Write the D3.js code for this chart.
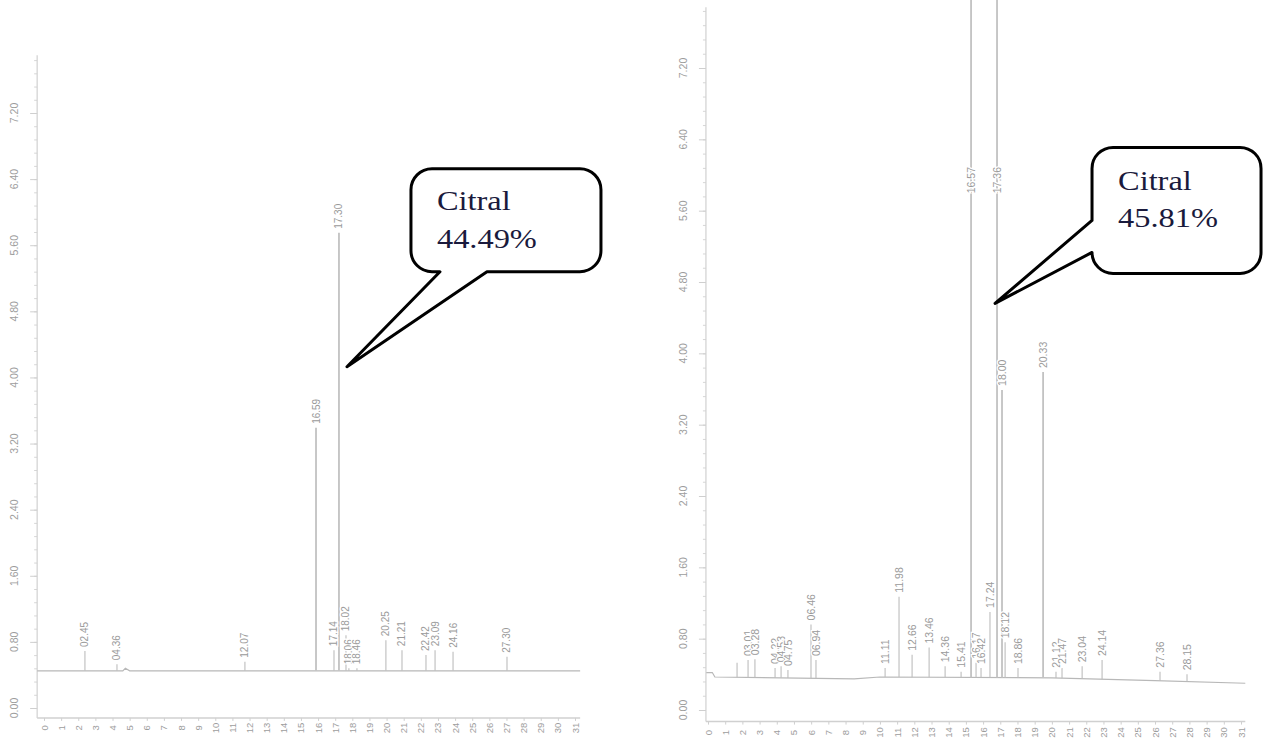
<!DOCTYPE html>
<html>
<head>
<meta charset="utf-8">
<script src="https://cdn.jsdelivr.net/npm/d3@7"></script>
<style>
body { margin: 0; background: #fff; }
svg { display: block; }
</style>
</head>
<body>
<svg id="chart" width="1263" height="744"></svg>
<script>
// tick values shared by both chromatograms
const yTickValues = [0, 0.8, 1.6, 2.4, 3.2, 4.0, 4.8, 5.6, 6.4, 7.2]
const xTickValues = [0, 1, 2, 3, 4, 5, 6, 7, 8, 9, 10, 11, 12, 13, 14, 15,
    16, 17, 18, 19, 20, 21, 22, 23, 24, 25, 26, 27, 28, 29, 30, 31]

// left sample: retention time (min), detector value, printed label
const leftTimes = [2.39, 4.26, 11.73, 15.88, 16.93, 17.22, 17.63, 17.80, 18.27, 19.96, 20.90, 22.30, 22.83, 23.88, 27.03]
const leftHeights = [0.69, 0.53, 0.56, 3.39, 0.70, 5.75, 0.88, 0.48, 0.48, 0.82, 0.70, 0.64, 0.70, 0.68, 0.62]
const leftLabels = ["02.45", "04.36", "12.07", "16.59", "17.14", "17.30", "18.02", "18.06", "18.46",
    "20.25", "21.21", "22.42", "23.09", "24.16", "27.30"]
const leftBaseTimes = [-0.4, 4.6, 4.75, 5.0, 31.3]
const leftBaseLevels = [0.45, 0.45, 0.48, 0.45, 0.45]

// right sample
const rightTimes = [1.69, 2.33, 2.73, 3.90, 4.25, 4.65, 5.99, 6.28, 10.30, 11.11, 11.87, 12.86, 13.79, 14.72,
    15.30, 15.59, 15.88, 16.40, 16.81, 17.10, 17.28, 18.03, 19.49, 20.24, 20.59, 21.76, 22.92, 26.29, 27.86]
const rightHeights = [0.53, 0.56, 0.57, 0.47, 0.49, 0.45, 0.96, 0.56, 0.47, 1.27, 0.62, 0.70, 0.49, 0.43,
    9.5, 0.53, 0.47, 1.10, 9.5, 3.59, 0.76, 0.47, 3.79, 0.43, 0.47, 0.49, 0.56, 0.43, 0.40]
const rightLabels = ["", "03.01", "03.28", "04.22", "04.53", "04.75", "06.46", "06.94", "11.11", "11.98", "12.66",
    "13.46", "14.36", "15.41", "16.57", "16.17", "16.42", "17.24", "17.36", "18.00", "18.12", "18.86", "20.33",
    "21.12", "21.47", "23.04", "24.14", "27.36", "28.15"]
const rightBaseTimes = [-0.1, 0.25, 0.4, 8.5, 10.0, 20, 26, 31.25]
const rightBaseLevels = [0.42, 0.42, 0.37, 0.35, 0.37, 0.36, 0.33, 0.30]

// callouts: text, and the point of the citral peak they point at
const calloutNames = ["Citral", "Citral"]
const calloutShares = ["44.49%", "45.81%"]
const calloutTimes = [17.22, 16.81]
const calloutValues = [4.13, 4.56]

const svg = d3.select("#chart")
svg.append("rect").attr("width", 1263).attr("height", 744).attr("fill", "#fff")

const panels = [
    {
        times: leftTimes, heights: leftHeights, labels: leftLabels,
        baseTimes: leftBaseTimes, baseLevels: leftBaseLevels,
        xRange: [44, 575], yRange: [708, 113], tExtent: [-0.4, 31.3], vExtent: [-0.12, 7.9],
        yLabelX: 14, xLabelGap: 10, fontSize: 10,
        callout: { index: 0, dx: 8, left: 64, top: -198, w: 190, h: 103, baseA: 93, baseB: 140, side: "bottom", textDx: 90, line1: -157, line2: -119 },
    },
    {
        times: rightTimes, heights: rightHeights, labels: rightLabels,
        baseTimes: rightBaseTimes, baseLevels: rightBaseLevels,
        xRange: [708, 1241], yRange: [710, 68], tExtent: [-0.12, 31.25], vExtent: [-0.13, 7.88],
        yLabelX: 683, xLabelGap: 11, fontSize: 10.5,
        callout: { index: 1, dx: -2, left: 97, top: -156, w: 169, h: 126, baseA: 83, baseB: 50, side: "left", textDx: 123, line1: -113, line2: -76 },
    },
]

const labelFont = '"Liberation Sans", Arial, sans-serif'

for (const p of panels) {
    const x = d3.scaleLinear().domain([0, 31]).range(p.xRange)
    const y = d3.scaleLinear().domain([0, 7.2]).range(p.yRange)
    const base = d3.scaleLinear().domain(p.baseTimes).range(p.baseLevels)
    const g = svg.append("g")

    const axisY = y(p.vExtent[0])
    const axisX = x(p.tExtent[0])

    // y axis: minor and major ticks
    const minor = d3.range(0, p.vExtent[1], 0.16)
    g.append("g")
        .attr("transform", `translate(${axisX},0)`)
        .call(d3.axisLeft(y).tickValues(minor).tickSize(3).tickFormat(""))
        .call((a) => a.select(".domain").remove())
        .call((a) => a.selectAll("line").attr("stroke", "#d6d6d6"))
    g.append("g")
        .attr("transform", `translate(${axisX},0)`)
        .call(d3.axisLeft(y).tickValues(yTickValues).tickSize(7).tickFormat(""))
        .call((a) => a.select(".domain").remove())
        .call((a) => a.selectAll("line").attr("stroke", "#cfcfcf"))

    g.append("line")
        .attr("x1", axisX).attr("x2", axisX)
        .attr("y1", y(p.vExtent[1])).attr("y2", axisY)
        .attr("stroke", "#d0d0d0").attr("stroke-width", 1.2)

    g.append("g").selectAll("text")
        .data(yTickValues)
        .join("text")
        .attr("transform", (v) => `translate(${p.yLabelX},${y(v)}) rotate(-90)`)
        .attr("text-anchor", "middle")
        .attr("dominant-baseline", "central")
        .attr("font-family", labelFont)
        .attr("font-size", 10.5)
        .attr("fill", "#9d9d9d")
        .text(d3.format(".2f"))

    // x axis
    g.append("g")
        .attr("transform", `translate(0,${axisY})`)
        .call(d3.axisBottom(x).tickValues(xTickValues).tickSize(3).tickFormat(""))
        .call((a) => a.select(".domain").remove())
        .call((a) => a.selectAll("line").attr("stroke", "#cfcfcf"))
    g.append("line")
        .attr("x1", axisX).attr("x2", x(p.tExtent[1]))
        .attr("y1", axisY).attr("y2", axisY)
        .attr("stroke", "#d0d0d0").attr("stroke-width", 1.5)
    g.append("g").selectAll("text")
        .data(xTickValues)
        .join("text")
        .attr("transform", (t) => `translate(${x(t)},${axisY + p.xLabelGap}) rotate(-90)`)
        .attr("text-anchor", "middle")
        .attr("dominant-baseline", "central")
        .attr("font-family", labelFont)
        .attr("font-size", 9.5)
        .attr("fill", "#9d9d9d")
        .text((t) => t)

    // baseline trace
    const baseLine = d3.line().x((d) => x(d[0])).y((d) => y(d[1]))
    g.append("path")
        .datum(d3.zip(p.baseTimes, p.baseLevels))
        .attr("fill", "none")
        .attr("stroke", "#b8b8b8")
        .attr("stroke-width", 1.2)
        .attr("d", baseLine)

    // peaks
    const peaks = p.times.map((t, i) => ({ t, h: p.heights[i], label: p.labels[i] }))
    g.append("g").selectAll("line")
        .data(peaks)
        .join("line")
        .attr("x1", (d) => x(d.t)).attr("x2", (d) => x(d.t))
        .attr("y1", (d) => y(base(d.t)))
        .attr("y2", (d) => y(d.h))
        .attr("stroke", (d) => (d.h > 3 ? "#c2c2c2" : "#bdbdbd"))
        .attr("stroke-width", (d) => (d.h > 3 ? 1.8 : 1.1))

    g.append("g").selectAll("text")
        .data(peaks.filter((d) => d.label))
        .join("text")
        .attr("transform", (d) => `translate(${x(d.t)},${y(Math.min(d.h, 5.75)) - 4}) rotate(-90)`)
        .attr("text-anchor", "start")
        .attr("dominant-baseline", "central")
        .attr("font-family", labelFont)
        .attr("font-size", p.fontSize)
        .attr("fill", "#9a9a9a")
        .attr("stroke", "#fff")
        .attr("stroke-width", 2.5)
        .attr("paint-order", "stroke")
        .text((d) => d.label)

    // callout bubble
    const c = p.callout
    const tipX = x(calloutTimes[c.index]) + c.dx
    const tipY = y(calloutValues[c.index])
    const bx0 = tipX + c.left, by0 = tipY + c.top
    const bx1 = bx0 + c.w, by1 = by0 + c.h
    const r = 21
    const path = d3.path()
    path.moveTo(bx0 + r, by0)
    path.lineTo(bx1 - r, by0)
    path.arcTo(bx1, by0, bx1, by0 + r, r)
    path.lineTo(bx1, by1 - r)
    path.arcTo(bx1, by1, bx1 - r, by1, r)
    if (c.side === "bottom") {
        path.lineTo(tipX + c.baseB, by1)
        path.lineTo(tipX, tipY)
        path.lineTo(tipX + c.baseA, by1)
        path.lineTo(bx0 + r, by1)
        path.arcTo(bx0, by1, bx0, by1 - r, r)
    } else {
        path.lineTo(bx0 + r, by1)
        path.arcTo(bx0, by1, bx0, by1 - r, r)
        path.lineTo(tipX, tipY)
        path.lineTo(bx0, tipY - c.baseA)
    }
    path.lineTo(bx0, by0 + r)
    path.arcTo(bx0, by0, bx0 + r, by0, r)
    path.closePath()

    g.append("path")
        .attr("d", path.toString())
        .attr("fill", "#fff")
        .attr("stroke", "#000")
        .attr("stroke-width", 3)
        .attr("stroke-linejoin", "round")

    const lines = [[calloutNames[c.index], c.line1], [calloutShares[c.index], c.line2]]
    g.append("g").selectAll("text")
        .data(lines)
        .join("text")
        .attr("transform", (d) => `translate(${tipX + c.textDx},${tipY + d[1]}) scale(1.2,1)`)
        .attr("font-family", '"Liberation Serif", "Times New Roman", serif')
        .attr("font-size", 27)
        .attr("fill", "#1a1a3c")
        .text((d) => d[0])
}
</script>
</body>
</html>
